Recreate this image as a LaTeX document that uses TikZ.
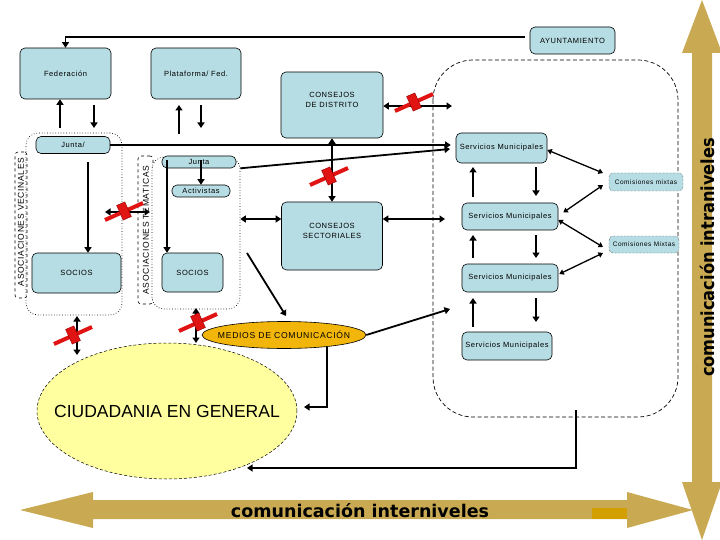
\documentclass[tikz,border=0pt]{standalone}
\usepackage{fontspec}
\usepackage{graphicx}
\setmainfont{Liberation Sans}
\newfontfamily\sm{Liberation Sans}[LetterSpace=8]
\newfontfamily\dvb{DejaVu Sans}
\usetikzlibrary{shapes.geometric,arrows.meta,calc}
\definecolor{boxblue}{RGB}{183,221,228}
\definecolor{goldc}{RGB}{201,170,82}
\definecolor{darkgold}{RGB}{210,158,0}
\definecolor{ciudfill}{RGB}{255,255,160}
\definecolor{mediosfill}{RGB}{242,182,10}
\definecolor{xred}{RGB}{225,20,20}
\definecolor{xdark}{RGB}{150,0,0}
\begin{document}
\begin{tikzpicture}[x=1pt,y=-1pt,
  box/.style={draw, fill=boxblue, rounded corners=5pt, inner sep=0pt, line width=0.6pt,
    font=\sm\fontsize{7.5}{10}\selectfont, align=center},
  combox/.style={draw, densely dotted, fill=boxblue, rounded corners=4pt, inner sep=0pt,
    font=\sm\fontsize{6.5}{8}\selectfont},
  dotbox/.style={draw, dotted, line width=0.7pt, rounded corners=12pt, inner sep=0pt},
  labbox/.style={draw, dashed, line width=0.6pt, rounded corners=3pt, inner sep=0pt},
  vlabel/.style={rotate=90, font=\sm\fontsize{8.5}{10}\selectfont},
  arr/.style={line width=1.8pt, -{Triangle[length=5.5pt,width=7pt]}},
  dbl/.style={line width=1.8pt, {Triangle[length=5.5pt,width=7pt]}-{Triangle[length=5.5pt,width=7pt]}},
  thinarr/.style={line width=1.2pt, -{Triangle[length=5.5pt,width=7pt]}},
  comarr/.style={line width=1.3pt, {Triangle[length=4.5pt,width=5.5pt]}-{Triangle[length=4.5pt,width=5.5pt]}},
  redcross/.pic={
    \draw[line width=4pt, xred] (-19,9) -- (19,-8);
    \filldraw[fill=xred, draw=xdark, line width=0.4pt]
      (7.4,5.5) -- (-0.8,9.1) -- (-7.4,-5.5) -- (0.8,-9.1) -- cycle;
  }]
\useasboundingbox (0,0) rectangle (720,540);

% gold level arrows
\fill[goldc] (20,510) -- (93,492) -- (93,500) -- (627,500) -- (627,492) -- (693,510)
  -- (627,528) -- (627,519) -- (93,519) -- (93,528) -- cycle;
\fill[darkgold] (592,508) rectangle (627,519);
\fill[goldc] (702,0) -- (722,53) -- (712,53) -- (712,482) -- (722,482) -- (702,540)
  -- (682,482) -- (692,482) -- (692,53) -- (682,53) -- cycle;
\node[font=\dvb\bfseries\fontsize{17.5}{20}\selectfont, anchor=base, inner sep=0pt] (inter)
  at (360,517) {comunicación interniveles};
\node[font=\dvb\bfseries\fontsize{18}{21}\selectfont, rotate=90, anchor=base, inner sep=0pt] (intra)
  at (714.5,257.5) {\scalebox{0.9}[1]{comunicación intraniveles}};

% dashed municipal region
\draw[dash pattern=on 4pt off 2.5pt, line width=0.7pt, rounded corners=40pt] (433,60) rectangle (678,417);

% association frames
\node[dotbox, minimum width=96, minimum height=182] (vecR) at (74,224) {};
\node[labbox, minimum width=12, minimum height=146] (vecL) at (21,225) {};
\node[vlabel] (vecT) at (21,222) {ASOCIACIONES VECINALES};
\node[labbox, minimum width=15, minimum height=148] (temL) at (145.5,230) {};
\node[dotbox, fill=white, minimum width=88, minimum height=152] (temR) at (196,233) {};
\node[vlabel] (temT) at (146,230) {ASOCIACIONES TEMATICAS};

% boxes
\node[box, minimum width=85, minimum height=27] (ayto) at (572.5,40.5) {AYUNTAMIENTO};
\node[box, minimum width=91, minimum height=51] (fed) at (65.5,73.5) {Federación};
\node[box, minimum width=90, minimum height=51] (plat) at (196,73.5) {Plataforma/ Fed.};
\node[box, minimum width=102, minimum height=66] (cdist) at (332,105) {};
\node[font=\sm\fontsize{7.5}{10.5}\selectfont, align=center] (cdistT) at (332,100) {CONSEJOS\\DE DISTRITO};
\node[box, minimum width=74, minimum height=17] (juntaV) at (73,145) {Junta/};
\node[box, minimum width=89, minimum height=40] (sociosV) at (76.5,273) {SOCIOS};
\node[box, minimum width=74, minimum height=12] (juntaT) at (199,162) {Junta};
\node[box, minimum width=58, minimum height=12] (activ) at (201,191) {Activistas};
\node[box, minimum width=61, minimum height=39] (sociosT) at (192.5,272.5) {SOCIOS};
\node[box, minimum width=101, minimum height=68] (csect) at (332,236) {};
\node[font=\sm\fontsize{7.5}{10.5}\selectfont, align=center] (csectT) at (332,231) {CONSEJOS\\SECTORIALES};
\node[box, minimum width=91, minimum height=30] (s1) at (501.5,148) {Servicios Municipales};
\node[box, minimum width=96, minimum height=27] (s2) at (510,216.5) {Servicios Municipales};
\node[box, minimum width=96, minimum height=28] (s3) at (510,278) {Servicios Municipales};
\node[box, minimum width=90, minimum height=28] (s4) at (507,346) {Servicios Municipales};
\node[combox, minimum width=74, minimum height=18] (com1) at (646,182) {Comisiones mixtas};
\node[combox, minimum width=70, minimum height=17] (com2) at (644,244.5) {Comisiones Mixtas};

% ellipses
\node[ellipse, draw, densely dashed, line width=0.5pt, fill=ciudfill, minimum width=260, minimum height=136,
  inner sep=0pt] (ciud) at (167,411) {};
\node[font=\fontsize{17.5}{20}\selectfont, inner sep=0pt] (ciudT) at (167,411) {CIUDADANIA EN GENERAL};
\node[ellipse, draw, line width=0.6pt, fill=mediosfill, minimum width=164, minimum height=27,
  inner sep=0pt] (medios) at (284,335) {};
\node[font=\sm\fontsize{8.6}{10}\selectfont, inner sep=0pt] (mediosT) at (284,335) {MEDIOS DE COMUNICACIÓN};

% top connector
\draw[thinarr] ($(ayto.west)+(-5,-3.5)$) -| (fed.north);

% federation / platform arrows
\coordinate (fu) at (60,128);
\draw[arr] (fu) -- (fu |- fed.south);
\coordinate (fd1) at (94,105); \coordinate (fd2) at (94,128);
\draw[arr] (fd1) -- (fd2);
\coordinate (pu1) at (179,134); \coordinate (pu2) at (179,105);
\draw[arr] (pu1) -- (pu2);
\coordinate (pd1) at (201,105); \coordinate (pd2) at (201,128);
\draw[arr] (pd1) -- (pd2);

% consejos de distrito
\coordinate (cdr) at (452,106);
\draw[dbl] (cdist.east |- cdr) -- (cdr);
\draw[dbl] (cdist.south) -- (csect.north);

% juntas to servicios
\draw[arr, shorten >=5pt] (juntaV.east) -- (juntaV.east -| s1.west);
\coordinate (jt2) at (450,149);
\draw[arr] ($(juntaT.south east)+(4,0)$) -- (jt2);

% inside associations
\coordinate (jv1) at (88,162);
\draw[arr] (jv1) -- (jv1 |- sociosV.north);
\coordinate (jt1) at (167,160);
\draw[arr] (jt1) -- (jt1 |- sociosT.north);
\coordinate (ja1) at (201,160);
\draw[arr] (ja1) -- (ja1 |- activ.north);

% association link
\coordinate (vt1) at (105,212); \coordinate (vt2) at (150,212);
\draw[dbl] (vt1) -- (vt2);

% consejos sectoriales
\coordinate (yc) at (0,219);
\draw[dbl] (temR.east |- yc) -- (csect.west |- yc);
\coordinate (csr) at (445,219);
\draw[dbl] (csect.east |- csr) -- (csr);

% towards media
\coordinate (tm1) at (247,253); \coordinate (tm2) at (286,316);
\draw[arr] (tm1) -- (tm2);
\coordinate (mr) at (450,309);
\draw[arr] (medios.east) -- (mr);
\coordinate (mb) at (327,347); \coordinate (cr) at (304,407);
\draw[thinarr] (mb) |- (cr);

% bottom return line
\coordinate (rb1) at (576,410); \coordinate (rb2) at (247,468);
\draw[thinarr] (rb1) |- (rb2);

% to ciudadania
\coordinate (vc1) at (77,316); \coordinate (vc2) at (77,355);
\draw[dbl] (vc1) -- (vc2);
\coordinate (tc1) at (196,308); \coordinate (tc2) at (196,343);
\draw[dbl] (tc1) -- (tc2);

% servicios arrows
\coordinate (u1a) at (473,197); \coordinate (u1b) at (473,167);
\coordinate (d1a) at (536,167); \coordinate (d1b) at (536,196);
\coordinate (u2a) at (473,258); \coordinate (u2b) at (473,235);
\coordinate (d2a) at (536,235); \coordinate (d2b) at (536,258);
\coordinate (u3a) at (473,327); \coordinate (u3b) at (473,298);
\coordinate (d3a) at (536,298); \coordinate (d3b) at (536,322);
\foreach \a/\b in {u1a/u1b,d1a/d1b,u2a/u2b,d2a/d2b,u3a/u3b,d3a/d3b}
  \draw[arr] (\a) -- (\b);

% comisiones arrows
\coordinate (c1a) at (603,173); \coordinate (c1b) at (603,185);
\coordinate (c2a) at (603,247); \coordinate (c2b) at (603,253);
\draw[comarr] ($(s1.east)+(0,2)$) -- (c1a);
\draw[comarr] ($(s2.east)+(5,-4)$) -- (c1b);
\draw[comarr] ($(s2.east)+(0,3.5)$) -- (c2a);
\draw[comarr] ($(s3.east)+(1,-4)$) -- (c2b);

% red crosses
\pic at (414,102) {redcross};
\pic at (329,176) {redcross};
\pic at (124,211) {redcross};
\pic at (73,335) {redcross};
\pic at (198,322) {redcross};
\end{tikzpicture}
\end{document}
